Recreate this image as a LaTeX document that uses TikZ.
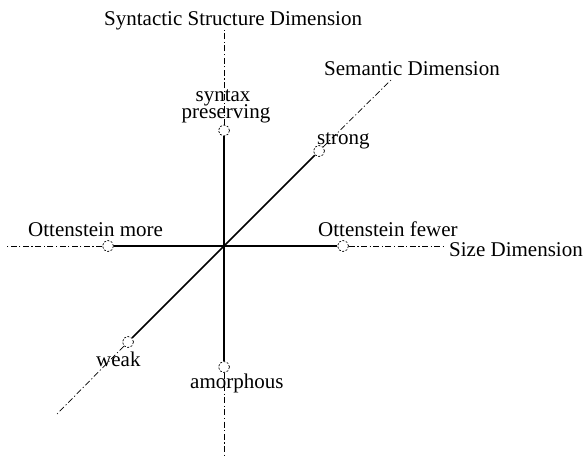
\documentclass[tikz,border=0pt]{standalone}
\usepackage{fontspec}
\setmainfont{Liberation Serif}
\begin{document}
\begin{tikzpicture}[x=1pt,y=-1pt,
  solidax/.style={line width=1.6pt},
  dashax/.style={line width=0.7pt,dash pattern=on 6pt off 2.5pt on 1.2pt off 2.5pt},
  endc/.style={circle,draw,dash pattern=on 2pt off 1.5pt,line width=0.7pt,minimum size=11pt,inner sep=0pt},
  lbl/.style={inner sep=0pt,anchor=base west,font=\fontsize{21}{24}\selectfont},
  lblc/.style={inner sep=0pt,anchor=base,font=\fontsize{21}{24}\selectfont}]
\useasboundingbox (0,0) rectangle (584,459);
\coordinate (O) at (224,246);
\coordinate (vt) at (224,30);
\coordinate (vb) at (224,457);
\coordinate (hl) at (5,246);
\coordinate (hr) at (445,246);
\coordinate (dt) at (391,80);
\coordinate (db) at (57,414);
\node[endc] (sp) at (224,130.5) {};
\node[endc] (am) at (224,367) {};
\node[endc] (om) at (108,246) {};
\node[endc] (of) at (343,246) {};
\node[endc] (st) at (319,151) {};
\node[endc] (wk) at (128,342) {};
\draw[solidax] (O) -- (sp);
\draw[solidax] (O) -- (am);
\draw[solidax] (O) -- (om);
\draw[solidax] (O) -- (of);
\draw[solidax] (O) -- (st);
\draw[solidax] (O) -- (wk);
\draw[dashax] (sp) -- (vt);
\draw[dashax] (am) -- (vb);
\draw[dashax] (om) -- (hl);
\draw[dashax] (of) -- (hr);
\draw[dashax] (st) -- (dt);
\draw[dashax] (wk) -- (db);
\node[lbl] (t1) at (104,25) {Syntactic Structure Dimension};
\node[lblc] (t2) at (223,101) {syntax};
\node[lblc] (t3) at (226,118) {preserving};
\node[lbl] (t4) at (317,144) {strong};
\node[lbl] (t5) at (324,75) {Semantic Dimension};
\node[lbl] (t6) at (28,236) {Ottenstein more};
\node[lbl] (t7) at (318,236) {Ottenstein fewer};
\node[lbl] (t8) at (449,256) {Size Dimension};
\node[lbl] (t9) at (96,366) {weak};
\node[lbl] (t10) at (190,388) {amorphous};
\end{tikzpicture}
\end{document}
